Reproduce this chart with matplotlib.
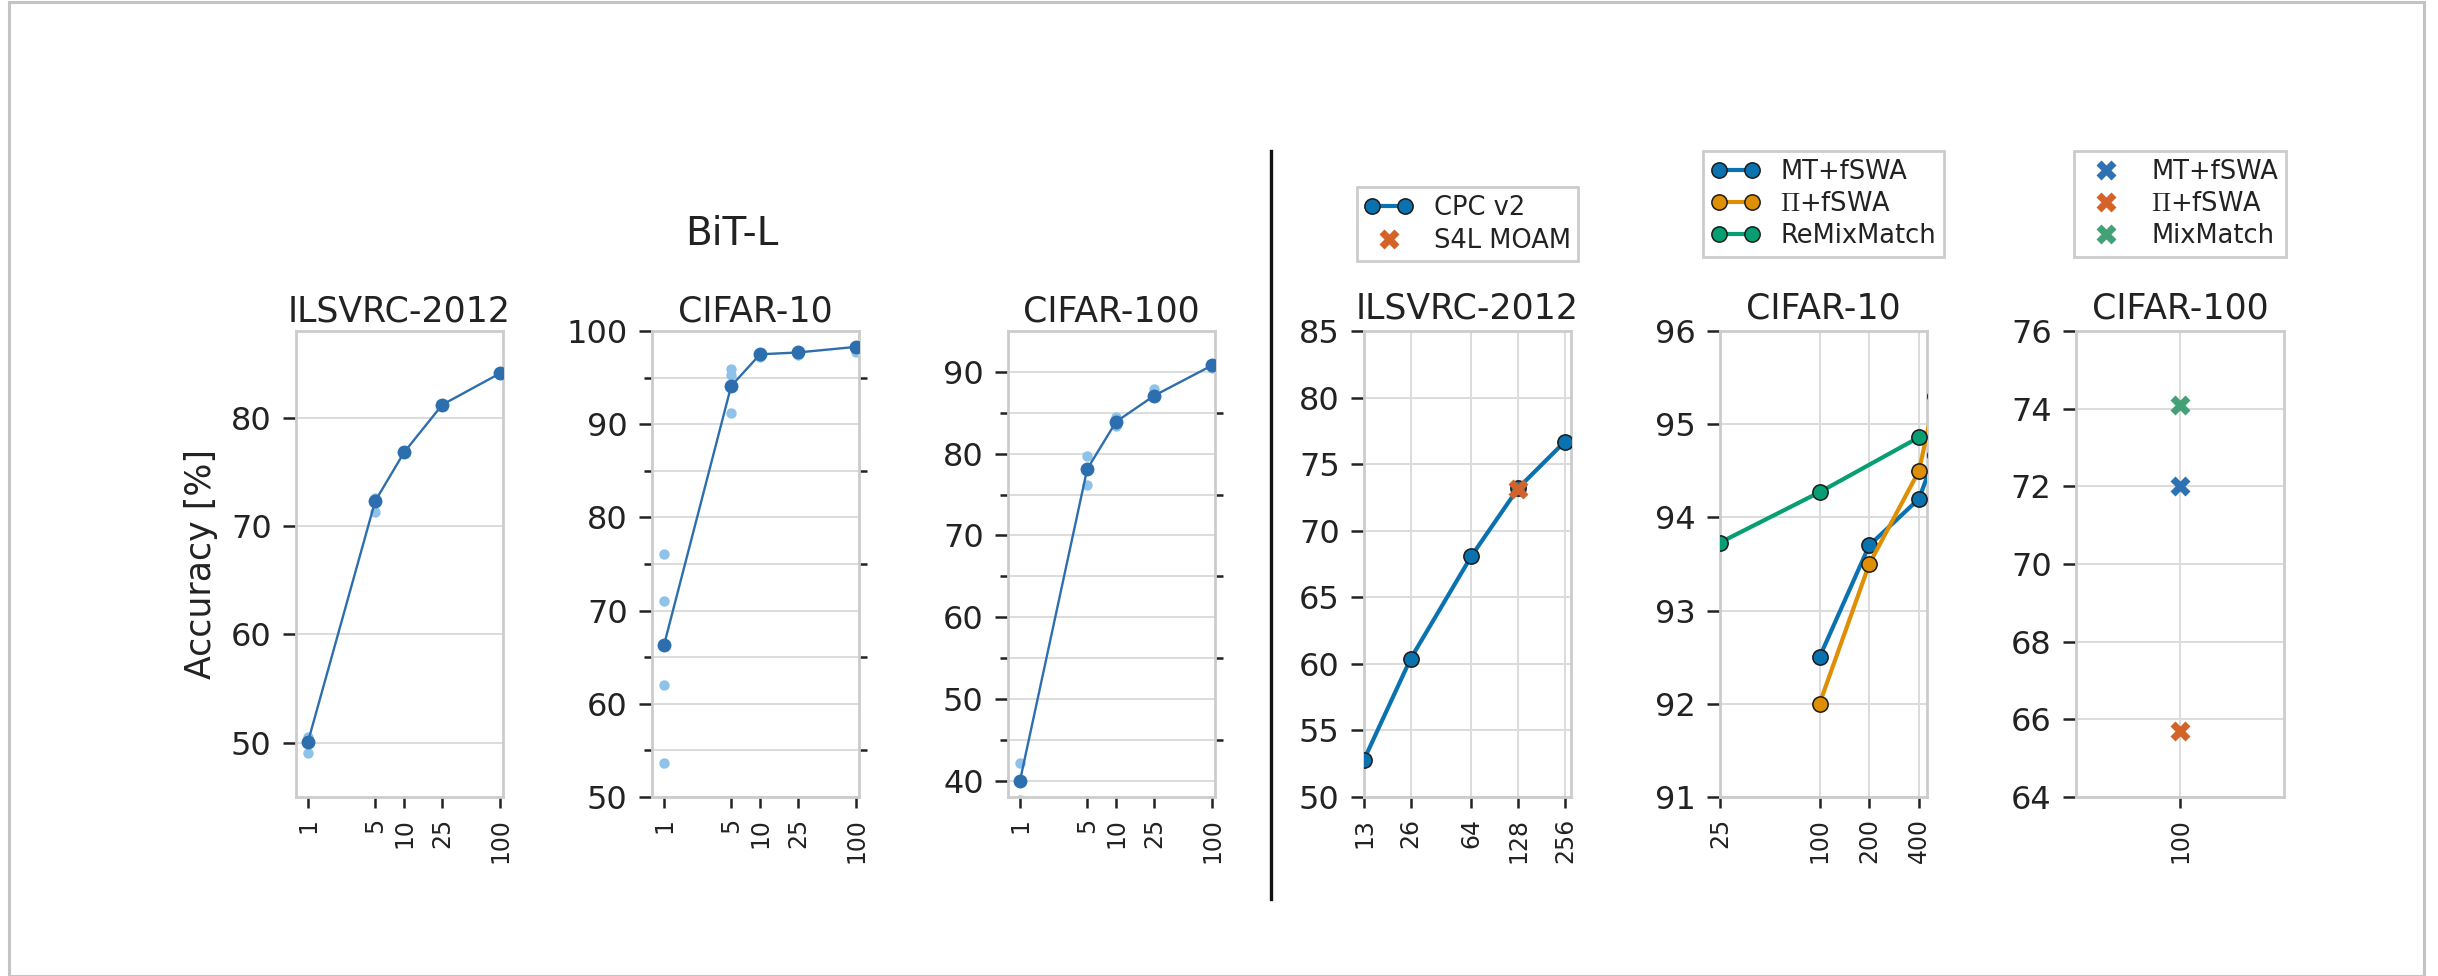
import numpy as np
import matplotlib
matplotlib.use('Agg')
import matplotlib.pyplot as plt
from matplotlib.lines import Line2D
from matplotlib.patches import Rectangle
from matplotlib.legend_handler import HandlerLine2D
from matplotlib.ticker import FixedLocator, NullLocator, NullFormatter

plt.rcParams['font.family'] = ['DejaVu Sans']
plt.rcParams['mathtext.fontset'] = 'cm'

# ---- BiT-L (few-shot) data ----
shots = [1, 5, 10, 25, 100]
bit_ilsvrc = [50.1, 72.3, 76.8, 81.2, 84.1]
bit_c10 = [66.3, 94.1, 97.5, 97.7, 98.3]
bit_c100 = [40.0, 78.1, 83.9, 87.1, 90.8]

runs_ilsvrc_x = [1, 1, 5, 5, 10, 25, 100]
runs_ilsvrc_y = [49.1, 50.5, 71.3, 72.6, 76.7, 81.3, 84.0]
runs_c10_x = [1, 1, 1, 1, 5, 5, 5, 10, 10, 25, 25, 100, 100]
runs_c10_y = [76.1, 71.0, 62.0, 53.6, 95.9, 95.3, 91.2, 97.4, 97.2, 97.9, 97.4, 98.4, 97.7]
runs_c100_x = [1, 1, 5, 5, 10, 10, 25, 25, 100]
runs_c100_y = [42.1, 37.6, 79.7, 76.2, 84.5, 83.4, 87.9, 87.0, 90.5]

# ---- semi-supervised data ----
img_x = [13, 26, 64, 128, 256]
cpc_v2 = [52.8, 60.4, 68.1, 73.2, 76.7]
s4l_x = [128]
s4l_moam = [73.1]

c10_x = [100, 200, 400, 500]
mt_fswa = [92.5, 93.7, 94.2, 94.67]
pi_fswa = [92.0, 93.5, 94.5, 95.3]
remix_x = [25, 100, 400]
remixmatch = [93.73, 94.27, 94.86]

c100_x = [100]
mt_fswa_100 = [72.0]
pi_fswa_100 = [65.7]
mixmatch_100 = [74.1]

dark = '#2d6eae'
light = '#8fc2e8'
c_blue = '#0b72b0'
c_orange = '#de8f05'
c_green = '#079e73'
x_blue = '#2f72b4'
x_orange = '#d4632a'
x_green = '#44a076'
spine_c = '#cccccc'
grid_c = '#dcdcdc'
txt = '#222222'

W, H = 2438, 976
TOP, BOT = 331, 797
fig = plt.figure(figsize=(W / 100, H / 100), dpi=100)


def box(l, r, t=TOP, b=BOT):
    return [l / W, 1 - b / H, (r - l) / W, (b - t) / H]


def style(ax, xticks, xlim, ylim, yticks, minor=None, vgrid=False):
    ax.set_xlim(*xlim)
    ax.set_ylim(*ylim)
    ax.xaxis.set_major_locator(FixedLocator(xticks))
    ax.set_xticklabels([str(v) for v in xticks], rotation=90, fontsize=17)
    ax.xaxis.set_minor_locator(NullLocator())
    ax.xaxis.set_minor_formatter(NullFormatter())
    ax.set_yticks(yticks)
    ax.set_yticklabels([str(v) for v in yticks], fontsize=23)
    if minor is not None:
        ax.set_yticks(minor, minor=True)
        ax.tick_params(axis='y', which='minor', left=True, right=True,
                       length=6, width=1.8, color=txt, direction='out')
    for s in ax.spines.values():
        s.set_color(spine_c)
        s.set_linewidth(2)
    ax.tick_params(axis='y', which='major', length=9.5, width=1.8,
                   color=txt, pad=8, labelcolor=txt)
    ax.tick_params(axis='x', which='major', length=8, width=1.8,
                   color=txt, pad=7, labelcolor=txt)
    ax.grid(axis='y', which='both', color=grid_c, linewidth=1.4)
    if vgrid:
        ax.grid(axis='x', which='major', color=grid_c, linewidth=1.4)
    ax.set_axisbelow(True)


def add_legend(ax, y_anchor, handler_map=None, numpoints=2):
    leg = ax.legend(loc='lower center', bbox_to_anchor=(0.5, y_anchor), fontsize=18.5,
                    numpoints=numpoints, fancybox=False, edgecolor=spine_c, framealpha=1,
                    borderpad=0.3, handlelength=1.9, labelspacing=0.25,
                    handletextpad=0.8, handler_map=handler_map)
    leg.get_frame().set_linewidth(2)
    for t in leg.get_texts():
        t.set_color(txt)
    return leg


# ---- left group: BiT-L ----
bit_sets = [
    ('ILSVRC-2012', bit_ilsvrc, runs_ilsvrc_x, runs_ilsvrc_y, (45, 88), [50, 60, 70, 80], None, 296),
    ('CIFAR-10', bit_c10, runs_c10_x, runs_c10_y, (50, 100), [50, 60, 70, 80, 90, 100],
     [55, 65, 75, 85, 95], 652),
    ('CIFAR-100', bit_c100, runs_c100_x, runs_c100_y, (38, 95), [40, 50, 60, 70, 80, 90],
     [45, 55, 65, 75, 85], 1008),
]
for i, (name, med, rx, ry, ylim, yt, mn, left) in enumerate(bit_sets):
    ax = fig.add_axes(box(left, left + 207))
    ax.set_xscale('log')
    ax.plot(rx, ry, 'o', color=light, ms=7.5, mec='none', zorder=2)
    ax.plot(shots, med, '-o', color=dark, lw=1.7, ms=10, mec='none', zorder=3)
    style(ax, shots, (0.75, 107), ylim, yt, mn)
    ax.set_title(name, fontsize=25, pad=7, color=txt)
    if i == 0:
        ax.set_ylabel('Accuracy [%]', fontsize=25, color=txt)
        ax.yaxis.set_label_coords(-0.377, 0.5)

fig.text(732 / W, 1 - 245 / H, 'BiT-L', fontsize=28, ha='center', va='baseline', color=txt)

# ---- right group: semi-supervised ----
ax4 = fig.add_axes(box(1364, 1571))
ax4.set_xscale('log', base=2)
ax4.plot(img_x, cpc_v2, '-o', color=c_blue, lw=3, ms=11, mec='#1a1a1a', mew=1.1,
         label='CPC v2', zorder=3)
s4l_marks, = ax4.plot(s4l_x, s4l_moam, 'X', color=x_orange, ms=15, mec='none', ls='none',
                      label='S4L MOAM', zorder=4)
style(ax4, img_x, (13, 280), (50, 85), [50, 55, 60, 65, 70, 75, 80, 85], vgrid=True)
ax4.set_title('ILSVRC-2012', fontsize=25, pad=9, color=txt)
add_legend(ax4, 1.122, handler_map={s4l_marks: HandlerLine2D(numpoints=1)})

ax5 = fig.add_axes(box(1720, 1927))
ax5.set_xscale('log', base=2)
ax5.plot(c10_x, mt_fswa, '-o', color=c_blue, lw=3, ms=11, mec='#1a1a1a', mew=1.1,
         label='MT+fSWA', zorder=3)
ax5.plot(c10_x, pi_fswa, '-o', color=c_orange, lw=3, ms=11, mec='#1a1a1a', mew=1.1,
         label=r'$\Pi$+fSWA', zorder=3)
ax5.plot(remix_x, remixmatch, '-o', color=c_green, lw=3, ms=11, mec='#1a1a1a', mew=1.1,
         label='ReMixMatch', zorder=3)
style(ax5, [25, 100, 200, 400], (25, 447), (91, 96), [91, 92, 93, 94, 95, 96], vgrid=True)
ax5.set_title('CIFAR-10', fontsize=25, pad=9, color=txt)
add_legend(ax5, 1.131)

ax6 = fig.add_axes(box(2076, 2284))
ax6.plot(c100_x, mt_fswa_100, 'X', color=x_blue, ms=15, mec='none', ls='none',
         label='MT+fSWA', zorder=3)
ax6.plot(c100_x, pi_fswa_100, 'X', color=x_orange, ms=15, mec='none', ls='none',
         label=r'$\Pi$+fSWA', zorder=3)
ax6.plot(c100_x, mixmatch_100, 'X', color=x_green, ms=15, mec='none', ls='none',
         label='MixMatch', zorder=3)
style(ax6, c100_x, (99, 101), (64, 76), [64, 66, 68, 70, 72, 74, 76], vgrid=True)
ax6.set_title('CIFAR-100', fontsize=25, pad=9, color=txt)
add_legend(ax6, 1.131, numpoints=1)

# separator between the two groups
fig.add_artist(Line2D([1271 / W, 1271 / W], [1 - 151 / H, 1 - 899 / H],
                      transform=fig.transFigure, color='#111111', lw=2.4))
# outer frame
fig.add_artist(Rectangle((9 / W, 0), (2424 - 9) / W, 1 - 2 / H, transform=fig.transFigure,
                         fill=False, edgecolor='#c4c4c4', lw=2.2))

fig.savefig('out.png', dpi=100)
